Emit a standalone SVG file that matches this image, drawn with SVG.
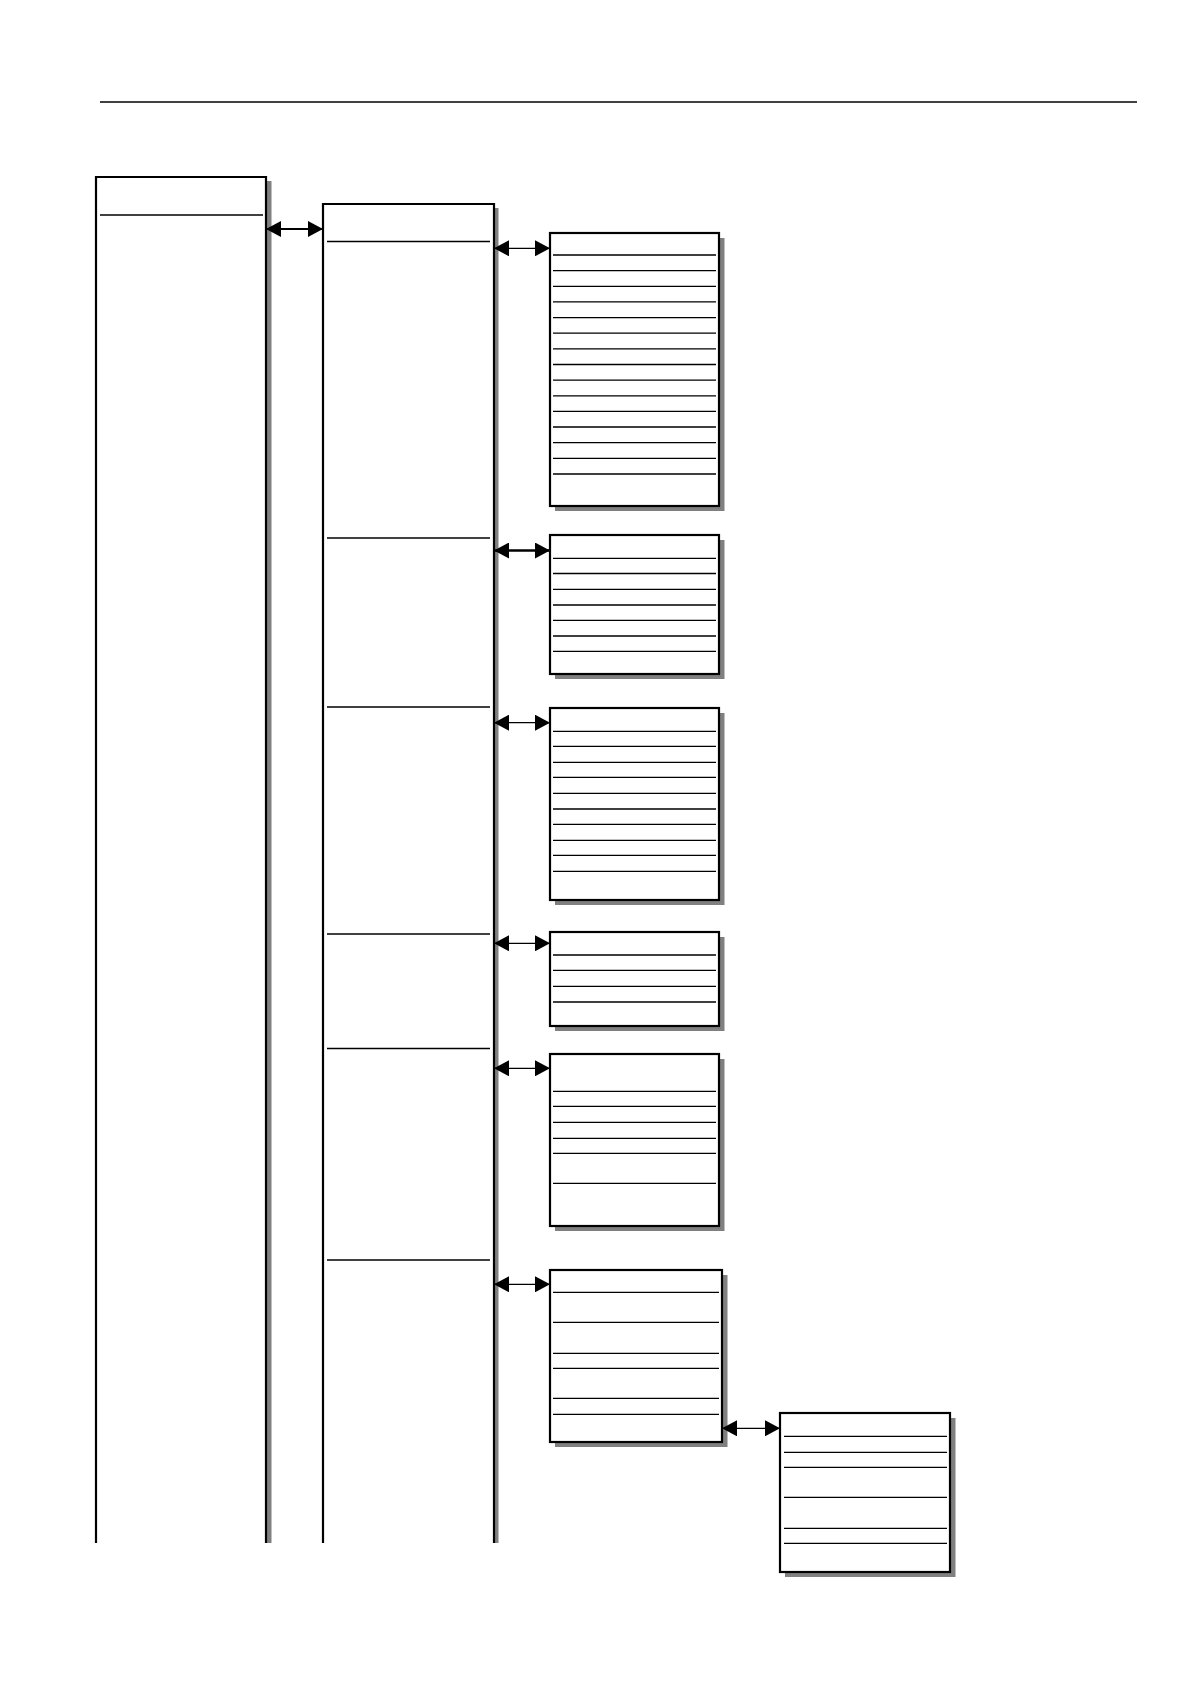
<svg xmlns="http://www.w3.org/2000/svg" width="1190" height="1684" viewBox="0 0 1190 1684">
<style>
.frame{fill:#fff;stroke:#000;stroke-width:2.2}
.col{fill:none;stroke:#000;stroke-width:2.2}
.sh{fill:#808080;stroke:none}
.ln{stroke:#000;stroke-width:1.3;fill:none}
.ar{stroke:#000;fill:none}
</style>
<defs>
<marker id="ah" viewBox="0 0 15 16" refX="14" refY="8" markerWidth="15" markerHeight="16" markerUnits="userSpaceOnUse" orient="auto-start-reverse"><path d="M0,0 L15,8 L0,16 Z" fill="#000"/></marker>
</defs>
<rect width="1190" height="1684" fill="#fff"/>
<line class="ln" x1="100" y1="102" x2="1137" y2="102"/>

<g id="column1">
<rect class="sh" x="267" y="181" width="4.5" height="1362"/>
<path class="col" d="M96,1543 V177 H266 V1543"/>
<line class="ln" x1="100" y1="215" x2="263" y2="215"/>
</g>

<g id="column2">
<rect class="sh" x="495" y="208" width="3.5" height="1335"/>
<path class="col" d="M323,1543 V204 H494 V1543"/>
<line class="ln" x1="327" y1="241.5" x2="490" y2="241.5"/>
<line class="ln" x1="327" y1="538" x2="490" y2="538"/>
<line class="ln" x1="327" y1="707" x2="490" y2="707"/>
<line class="ln" x1="327" y1="934" x2="490" y2="934"/>
<line class="ln" x1="327" y1="1048.5" x2="490" y2="1048.5"/>
<line class="ln" x1="327" y1="1260" x2="490" y2="1260"/>
</g>

<g id="box1">
<rect class="sh" x="555" y="238" width="169.5" height="273"/>
<rect class="frame" x="550" y="233" width="169" height="273"/>
<path class="ln" d="M553,255H716 M553,270.6H716 M553,286.3H716 M553,301.9H716 M553,317.6H716 M553,333.2H716 M553,348.8H716 M553,364.5H716 M553,380.1H716 M553,395.8H716 M553,411.4H716 M553,427H716 M553,442.7H716 M553,458.3H716 M553,474H716"/>
</g>

<g id="box2">
<rect class="sh" x="555" y="540" width="169.5" height="139"/>
<rect class="frame" x="550" y="535" width="169" height="139"/>
<path class="ln" d="M553,558.3H716 M553,573.5H716 M553,589.3H716 M553,605H716 M553,620.3H716 M553,636H716 M553,651.3H716"/>
</g>

<g id="box3">
<rect class="sh" x="555" y="713" width="169.5" height="192"/>
<rect class="frame" x="550" y="708" width="169" height="192"/>
<path class="ln" d="M553,731.3H716 M553,746.3H716 M553,762.3H716 M553,777.3H716 M553,793.3H716 M553,809H716 M553,824.3H716 M553,840.3H716 M553,855.3H716 M553,871.3H716"/>
</g>

<g id="box4">
<rect class="sh" x="555" y="937" width="169.5" height="94"/>
<rect class="frame" x="550" y="932" width="169" height="94"/>
<path class="ln" d="M553,955H716 M553,970.3H716 M553,986.3H716 M553,1002H716"/>
</g>

<g id="box5">
<rect class="sh" x="555" y="1059" width="169.5" height="172"/>
<rect class="frame" x="550" y="1054" width="169" height="172"/>
<path class="ln" d="M553,1091.3H716 M553,1106.3H716 M553,1122.3H716 M553,1138.3H716 M553,1153.3H716 M553,1183.3H716"/>
</g>

<g id="box6">
<rect class="sh" x="555" y="1275" width="172.5" height="172"/>
<rect class="frame" x="550" y="1270" width="172" height="172"/>
<path class="ln" d="M553,1292.3H719 M553,1322.3H719 M553,1353.3H719 M553,1368.3H719 M553,1398.3H719 M553,1414.3H719"/>
</g>

<g id="box7">
<rect class="sh" x="785" y="1418" width="170.5" height="159"/>
<rect class="frame" x="780" y="1413" width="170" height="159"/>
<path class="ln" d="M784,1436.3H947 M784,1452.3H947 M784,1467.3H947 M784,1497.3H947 M784,1528.3H947 M784,1543.3H947"/>
</g>

<g id="connectors">
<line class="ar" stroke-width="2.2" x1="267" y1="229" x2="322" y2="229" marker-start="url(#ah)" marker-end="url(#ah)"/>
<line class="ar" stroke-width="1.2" x1="495" y1="248.3" x2="549" y2="248.3" marker-start="url(#ah)" marker-end="url(#ah)"/>
<line class="ar" stroke-width="2.3" x1="495" y1="550.5" x2="549" y2="550.5" marker-start="url(#ah)" marker-end="url(#ah)"/>
<line class="ar" stroke-width="1.2" x1="495" y1="722.7" x2="549" y2="722.7" marker-start="url(#ah)" marker-end="url(#ah)"/>
<line class="ar" stroke-width="1.2" x1="495" y1="943.3" x2="549" y2="943.3" marker-start="url(#ah)" marker-end="url(#ah)"/>
<line class="ar" stroke-width="1.2" x1="495" y1="1068.3" x2="549" y2="1068.3" marker-start="url(#ah)" marker-end="url(#ah)"/>
<line class="ar" stroke-width="1.2" x1="495" y1="1284.3" x2="549" y2="1284.3" marker-start="url(#ah)" marker-end="url(#ah)"/>
<line class="ar" stroke-width="1.2" x1="723" y1="1428.3" x2="779" y2="1428.3" marker-start="url(#ah)" marker-end="url(#ah)"/>
</g>
</svg>
